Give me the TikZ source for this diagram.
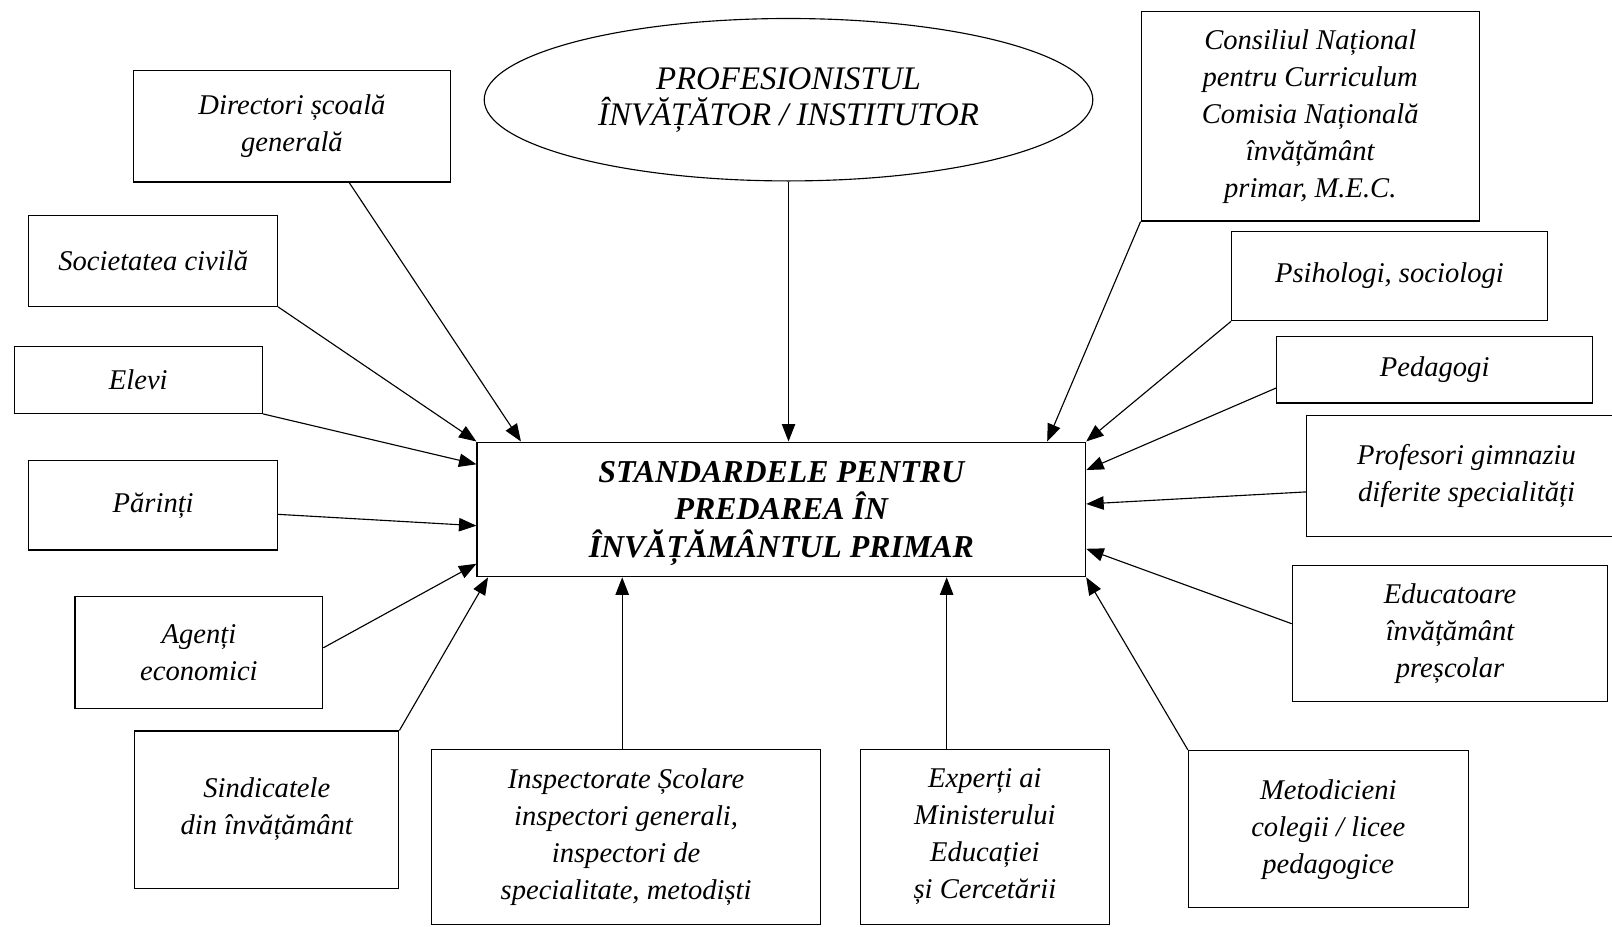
\documentclass[tikz,border=0pt]{standalone}
\usepackage{fontspec}
\setmainfont{Liberation Serif}
\usetikzlibrary{arrows.meta,calc,shapes.geometric}
\begin{document}
\begin{tikzpicture}[x=1pt,y=-1pt,
  box/.style={draw, line width=1.1pt, rectangle, inner sep=0pt, align=center,
    font=\fontsize{27.8}{36}\selectfont\itshape},
  arr/.style={-{Triangle[length=17pt,width=13pt]}, line width=1.1pt},
]
\useasboundingbox (0,0) rectangle (1568,901);
\clip (0,0) rectangle (1568,901);

% central box and ellipse
\node[box, minimum width=592, minimum height=131,
  font=\fontsize{31}{36.5}\selectfont\bfseries\itshape] (ctr) at (760,495.5)
  {\rule{0pt}{28pt}STANDARDELE PENTRU\\PREDAREA ÎN\\ÎNVĂȚĂMÂNTUL PRIMAR};
\node[draw, ellipse, line width=1.1pt, minimum width=592, minimum height=158,
  inner sep=0pt, align=center, font=\fontsize{32}{35}\selectfont\itshape] (ell) at (767,97)
  {PROFESIONISTUL\\ÎNVĂȚĂTOR / INSTITUTOR};

% left side
\node[box, minimum width=308, minimum height=108] (dir) at (284,123) {Directori școală\\generală};
\node[box, minimum width=242, minimum height=88] (soc) at (149,254) {Societatea civilă};
\node[box, minimum width=241, minimum height=65] (elevi) at (134.5,369.5) {Elevi};
\node[box, minimum width=242, minimum height=87] (par) at (149,491.5) {Părinți};
\node[box, minimum width=241, minimum height=109] (ag) at (193.5,634.5) {Agenți\\economici};
\node[box, minimum width=257, minimum height=153] (sind) at (259.5,787.5) {Sindicatele\\din învățământ};

% bottom
\node[box, minimum width=378, minimum height=170] (insp) at (609,814)
  {Inspectorate Școlare\\inspectori generali,\\inspectori de\\specialitate, metodiști};
\node[box, minimum width=242, minimum height=170] (exp) at (958,814)
  {Experți ai\\Ministerului\\Educației\\și Cercetării};
\node[box, minimum width=272, minimum height=153] (met) at (1292,806.5)
  {Metodicieni\\colegii / licee\\pedagogice};

% right side
\node[box, minimum width=307, minimum height=132] (edu) at (1410.5,616)
  {Educatoare\\învățământ\\preșcolar};
\node[box, minimum width=311, minimum height=118] (prof) at (1426.5,463)
  {Profesori gimnaziu\\diferite specialități};
\node[box, minimum width=307, minimum height=65] (ped) at (1395.5,359.5) {Pedagogi};
\node[box, minimum width=307, minimum height=87] (psi) at (1351.5,268.5) {Psihologi, sociologi};
\node[box, minimum width=329, minimum height=204] (cons) at (1274.5,113)
  {Consiliul Național\\pentru Curriculum\\Comisia Națională\\învățământ\\primar, M.E.C.};

% helper coordinates
\coordinate (i1) at ($(insp.north west)!0.49!(insp.north east)$);
\coordinate (e1) at ($(exp.north west)!0.347!(exp.north east)$);

% connectors
\draw[arr] (ell.south) -- (ell.south |- ctr.north);
\draw[arr] ($(dir.south west)!0.68!(dir.south east)$) -- ($(ctr.north west)!0.073!(ctr.north east)$);
\draw[arr] (soc.south east) -- (ctr.north west);
\draw[arr] (elevi.south east) -- ($(ctr.north west)!0.168!(ctr.south west)$);
\draw[arr] ($(par.north east)!0.6!(par.south east)$) -- ($(ctr.north west)!0.62!(ctr.south west)$);
\draw[arr] ($(ag.north east)!0.46!(ag.south east)$) -- ($(ctr.north west)!0.9!(ctr.south west)$);
\draw[arr] (sind.north east) -- ($(ctr.south west)!0.019!(ctr.south east)$);
\draw[arr] (i1) -- (i1 |- ctr.south);
\draw[arr] (e1) -- (e1 |- ctr.south);
\draw[arr] (met.north west) -- (ctr.south east);
\draw[arr] ($(edu.north west)!0.43!(edu.south west)$) -- ($(ctr.north east)!0.79!(ctr.south east)$);
\draw[arr] ($(prof.north west)!0.63!(prof.south west)$) -- ($(ctr.north east)!0.46!(ctr.south east)$);
\draw[arr] ($(ped.north west)!0.77!(ped.south west)$) -- ($(ctr.north east)!0.21!(ctr.south east)$);
\draw[arr] (psi.south west) -- (ctr.north east);
\draw[arr] (cons.south west) -- ($(ctr.north west)!0.936!(ctr.north east)$);
\end{tikzpicture}
\end{document}
